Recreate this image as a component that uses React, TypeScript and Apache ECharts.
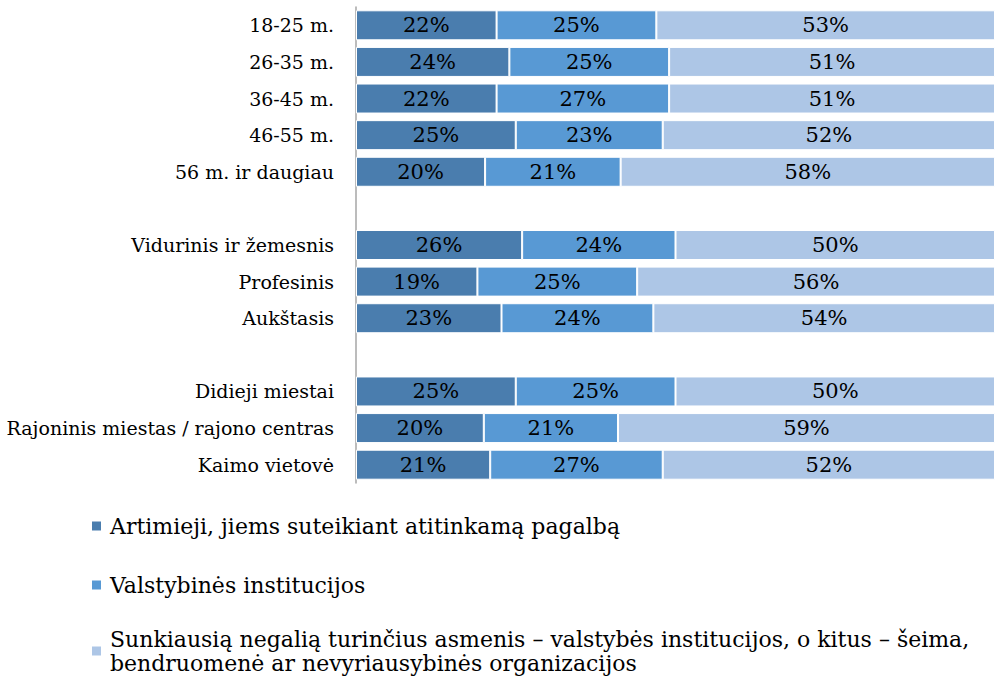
import React, { useEffect, useRef } from "react";
import * as echarts from "echarts";

const categories = [
  "18-25 m.",
  "26-35 m.",
  "36-45 m.",
  "46-55 m.",
  "56 m. ir daugiau",
  " ",
  "Vidurinis ir žemesnis",
  "Profesinis",
  "Aukštasis",
  "  ",
  "Didieji miestai",
  "Rajoninis miestas / rajono centras",
  "Kaimo vietovė",
];

const seriesNames = [
  "Artimieji, jiems suteikiant atitinkamą pagalbą",
  "Valstybinės institucijos",
  "Sunkiausią negalią turinčius asmenis – valstybės institucijos, o kitus – šeima, bendruomenė ar nevyriausybinės organizacijos",
];

const artimieji = [22, 24, 22, 25, 20, null, 26, 19, 23, null, 25, 20, 21];
const valstybines = [25, 25, 27, 23, 21, null, 24, 25, 24, null, 25, 21, 27];
const sunkiausia = [53, 51, 51, 52, 58, null, 50, 56, 54, null, 50, 59, 52];

const colors = ["#4a7dae", "#5899d4", "#adc6e6"];
const FONT = "DejaVu Serif";

export default function App() {
  const ref = useRef<HTMLDivElement>(null);
  useEffect(() => {
    if (!ref.current) return;
    const chart = echarts.init(ref.current, undefined, { renderer: "svg" });
    const raw = [artimieji, valstybines, sunkiausia];
    const totals = categories.map((_, i) =>
      raw.reduce((s, arr) => s + (arr[i] ?? 0), 0)
    );
    const series = raw.map((arr, si) => ({
      name: seriesNames[si],
      type: "bar",
      stack: "total",
      barWidth: 30,
      itemStyle: { color: colors[si], borderColor: "#ffffff", borderWidth: 1 },
      label: {
        show: true,
        position: "inside",
        color: "#000000",
        fontFamily: FONT,
        fontSize: 21,
        formatter: (p: any) => `${arr[p.dataIndex]}%`,
      },
      data: arr.map((v, i) =>
        v == null ? null : (v / totals[i]) * 100
      ),
    }));
    const legendBase = {
      orient: "vertical",
      left: 85,
      itemWidth: 11,
      itemHeight: 11,
      icon: "rect",
      selectedMode: false,
      textStyle: {
        fontFamily: FONT,
        fontSize: 22,
        color: "#000000",
        lineHeight: 26,
        padding: [0, 0, 0, 3],
      },
    };
    chart.setOption({
      animation: false,
      color: colors,
      textStyle: { fontFamily: FONT },
      grid: {
        left: 356,
        right: 0,
        top: 7,
        bottom: 208,
        containLabel: false,
        outerBoundsMode: "none",
      },
      xAxis: {
        type: "value",
        min: 0,
        max: 100,
        show: false,
      },
      yAxis: {
        type: "category",
        inverse: true,
        data: categories,
        axisLine: { show: true, lineStyle: { color: "#a6a6a6", width: 1.5 } },
        axisTick: { show: false },
        axisLabel: {
          fontFamily: FONT,
          fontSize: 19,
          color: "#000000",
          margin: 22,
        },
      },
      legend: [
        { ...legendBase, top: 508, data: [seriesNames[0]] },
        { ...legendBase, top: 567, data: [seriesNames[1]] },
        {
          ...legendBase,
          top: 610,
          data: [seriesNames[2]],
          textStyle: {
            ...legendBase.textStyle,
            lineHeight: 24,
            padding: [24, 0, 0, 3],
          },
          formatter: () =>
            "Sunkiausią negalią turinčius asmenis – valstybės institucijos, o kitus – šeima,\nbendruomenė ar nevyriausybinės organizacijos",
        },
      ],
      series,
    });
    return () => chart.dispose();
  }, []);
  return (
    <div
      ref={ref}
      style={{ position: "absolute", left: 0, top: 0, width: 995, height: 691 }}
    />
  );
}
